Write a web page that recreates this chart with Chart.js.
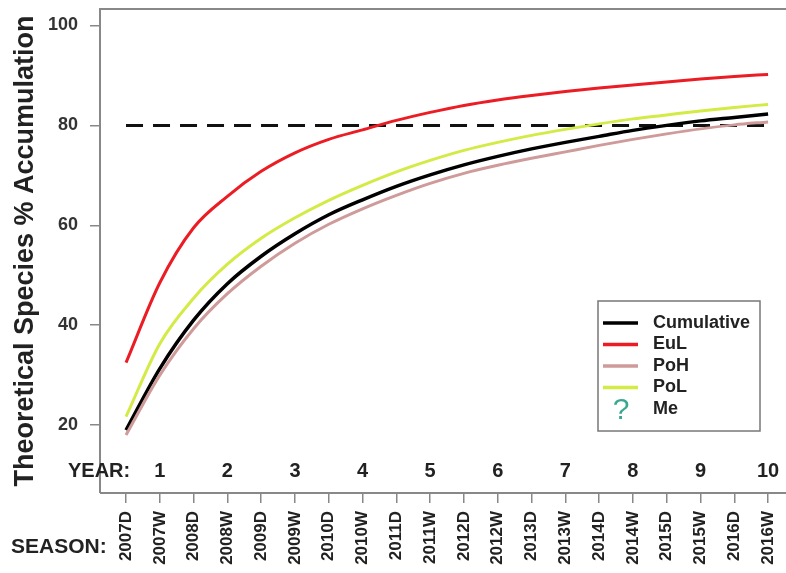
<!DOCTYPE html>
<html>
<head>
<meta charset="utf-8">
<script src="https://cdn.jsdelivr.net/npm/chart.js@4/dist/chart.umd.min.js"></script>
<style>
  body { margin: 0; background: #fff; }
</style>
</head>
<body>
<canvas id="chart" width="786" height="573"></canvas>
<script>
const seasons = ["2007D", "2007W", "2008D", "2008W", "2009D", "2009W", "2010D", "2010W", "2011D", "2011W",
  "2012D", "2012W", "2013D", "2013W", "2014D", "2014W", "2015D", "2015W", "2016D", "2016W"]
const years = ["1", "2", "3", "4", "5", "6", "7", "8", "9", "10"]

const cumulative = [19, 31.3, 41, 48.3, 53.8, 58.3, 62.1, 65.1, 67.8, 70.1, 72.1, 73.8, 75.3, 76.6, 77.8, 79, 80, 80.9, 81.6, 82.3]
const eul = [32.5, 48.5, 59.5, 65.8, 70.8, 74.5, 77.2, 79.1, 81, 82.6, 84, 85.1, 86, 86.8, 87.5, 88.1, 88.7, 89.3, 89.8, 90.2]
const poh = [18, 30, 39.3, 46.3, 51.8, 56.4, 60.2, 63.3, 66, 68.4, 70.4, 72, 73.4, 74.7, 76, 77.2, 78.3, 79.3, 80.1, 80.7]
const pol = [21.7, 36.3, 45.4, 52.2, 57.4, 61.5, 65, 68, 70.7, 73, 75, 76.6, 78, 79.2, 80.3, 81.3, 82.1, 82.9, 83.6, 84.2]
const threshold = [80, 80, 80, 80, 80, 80, 80, 80, 80, 80, 80, 80, 80, 80, 80, 80, 80, 80, 80, 80]
const yTicks = [20, 40, 60, 80, 100]

const FONT = "'Liberation Sans', Arial, sans-serif"
const toPoints = (arr) => arr.map((v, i) => ({ x: i, y: v }))

const frame = {
	id: "frame",
	afterDraw(chart) {
		const { ctx, chartArea: a, scales } = chart
		ctx.save()
		// plot box
		ctx.strokeStyle = "#888"
		ctx.lineWidth = 2
		ctx.beginPath()
		ctx.moveTo(a.left, a.bottom)
		ctx.lineTo(a.left, a.top)
		ctx.lineTo(a.right + 5, a.top)
		ctx.moveTo(a.left, a.bottom)
		ctx.lineTo(a.right + 5, a.bottom)
		ctx.stroke()

		// year row
		ctx.fillStyle = "#222"
		ctx.font = "bold 20px " + FONT
		ctx.textBaseline = "middle"
		ctx.textAlign = "left"
		ctx.fillText("YEAR:", 68, 471)
		ctx.textAlign = "center"
		years.forEach((y, i) => {
			ctx.fillText(y, scales.x.getPixelForValue(i * 2 + 1), 471)
		})
		ctx.textAlign = "left"
		ctx.font = "bold 21px " + FONT
		ctx.fillText("SEASON:", 11, 547)

		// legend
		const lx = 598, ly = 301, lw = 162, lh = 130
		ctx.fillStyle = "#fff"
		ctx.fillRect(lx, ly, lw, lh)
		ctx.strokeStyle = "#777"
		ctx.lineWidth = 1.5
		ctx.strokeRect(lx, ly, lw, lh)
		const items = [
			["Cumulative", "#000"],
			["EuL", "#ec1c24"],
			["PoH", "#cf9a9a"],
			["PoL", "#d4ea45"],
		]
		ctx.font = "bold 18px " + FONT
		items.forEach(([name, col], i) => {
			const y = 323 + i * 21.5
			ctx.strokeStyle = col
			ctx.lineWidth = 3.5
			ctx.beginPath()
			ctx.moveTo(603, y)
			ctx.lineTo(638, y)
			ctx.stroke()
			ctx.fillStyle = "#222"
			ctx.fillText(name, 653, y)
		})
		ctx.font = "30px " + FONT
		ctx.fillStyle = "#3aa890"
		ctx.textAlign = "center"
		ctx.fillText("?", 621, 411)
		ctx.font = "bold 18px " + FONT
		ctx.fillStyle = "#222"
		ctx.textAlign = "left"
		ctx.fillText("Me", 653, 409)
		ctx.restore()
	},
}

const ctx = document.getElementById("chart").getContext("2d")

new Chart(ctx, {
	type: "line",
	data: {
		datasets: [
			{ label: "PoH", data: toPoints(poh), borderColor: "#cf9a9a", borderWidth: 3 },
			{ label: "PoL", data: toPoints(pol), borderColor: "#d4ea45", borderWidth: 3 },
			{ label: "Cumulative", data: toPoints(cumulative), borderColor: "#000", borderWidth: 3.5 },
			{ label: "EuL", data: toPoints(eul), borderColor: "#ec1c24", borderWidth: 3 },
			{ label: "80%", data: toPoints(threshold), borderColor: "#111", borderWidth: 3, borderDash: [17, 10] },
		],
	},
	options: {
		responsive: false,
		animation: false,
		devicePixelRatio: 1,
		layout: { padding: { top: 9, right: 0, left: 0, bottom: 0 } },
		elements: {
			point: { radius: 0 },
			line: { cubicInterpolationMode: "monotone", fill: false },
		},
		plugins: { legend: { display: false }, tooltip: { enabled: false } },
		scales: {
			x: {
				type: "linear",
				min: -0.77,
				max: 19.53,
				afterFit(scale) {
					// no extra room for the outer labels, the plot runs to the edge
					scale.height = 80
					scale.paddingLeft = 0
					scale.paddingRight = 0
				},
				afterBuildTicks(scale) {
					scale.ticks = seasons.map((s, i) => ({ value: i }))
				},
				border: { display: false },
				grid: { drawOnChartArea: false, tickLength: 10, color: "#888", lineWidth: 1.5 },
				ticks: {
					autoSkip: false,
					minRotation: 90,
					maxRotation: 90,
					padding: 8,
					color: "#222",
					font: { family: FONT, size: 17, weight: "bold" },
					callback: (v) => seasons[v],
				},
			},
			y: {
				min: 6.4,
				max: 103.3,
				afterFit(scale) {
					scale.width = 100
					scale.paddingTop = 0
					scale.paddingBottom = 0
				},
				afterBuildTicks(scale) {
					scale.ticks = yTicks.map((v) => ({ value: v }))
				},
				border: { display: false },
				grid: { drawOnChartArea: false, tickLength: 10, color: "#888", lineWidth: 1.5 },
				ticks: {
					padding: 12,
					color: "#333",
					font: { family: FONT, size: 18, weight: "bold" },
				},
				title: {
					display: true,
					text: "Theoretical Species % Accumulation",
					color: "#222",
					padding: { top: 9, bottom: 0 },
					font: { family: FONT, size: 27, weight: "bold" },
				},
			},
		},
	},
	plugins: [frame],
})
</script>
</body>
</html>
